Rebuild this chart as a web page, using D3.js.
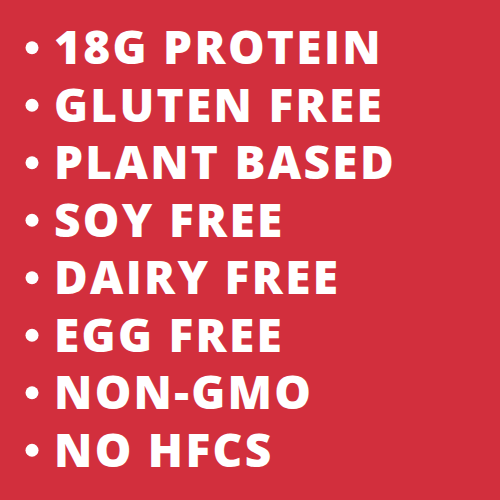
<!DOCTYPE html>
<html>
<head>
<meta charset="utf-8">
<script src="https://cdn.jsdelivr.net/npm/d3@7"></script>
<style>
  body { margin: 0; background: #d22f3d; }
  svg { display: block; }
</style>
</head>
<body>
<div id="panel"></div>
<script>
// Panel size
var svgWidth = 500;
var svgHeight = 500;

// List items, top to bottom
var items = ["18G PROTEIN", "GLUTEN FREE", "PLANT BASED", "SOY FREE",
    "DAIRY FREE", "EGG FREE", "NON-GMO", "NO HFCS"];

var svg = d3.select("#panel")
    .append("svg")
    .attr("width", svgWidth)
    .attr("height", svgHeight);

svg.append("rect")
    .attr("width", svgWidth)
    .attr("height", svgHeight)
    .attr("fill", "#d22f3d");

// one band per line
var yScale = d3.scaleBand()
    .domain(items)
    .range([19, 479]);

var rows = svg.selectAll(".row")
    .data(items)
    .enter()
    .append("g")
    .attr("class", "row")
    .attr("transform", d => `translate(0, ${yScale(d) + yScale.bandwidth() / 2})`);

rows.append("circle")
    .attr("cx", 32)
    .attr("cy", 0)
    .attr("r", 6.5)
    .attr("fill", "#ffffff");

rows.append("text")
    .attr("x", 54)
    .attr("y", 16.5)
    .attr("fill", "#ffffff")
    .style("font-family", "'Open Sans', sans-serif")
    .style("font-weight", 800)
    .style("font-size", "46px")
    .style("letter-spacing", "2.3px")
    .text(d => d);
</script>
</body>
</html>
